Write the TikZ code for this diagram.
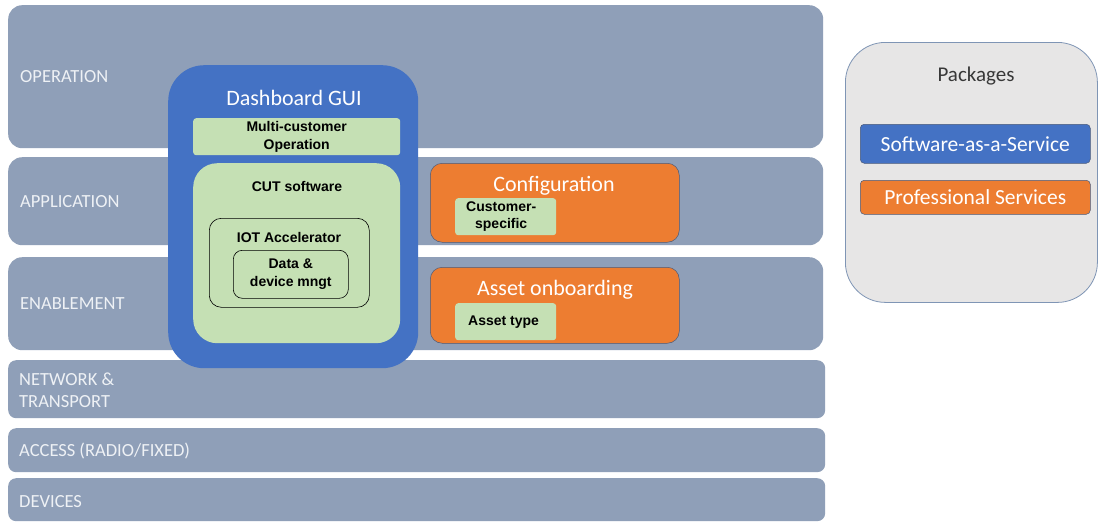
\documentclass[tikz,border=0pt]{standalone}
\usepackage{fontspec}
\setmainfont{Carlito}
\newfontfamily\arialb{Liberation Sans}
\definecolor{bandc}{HTML}{8F9FB8}
\definecolor{bandtxt}{HTML}{EEF1F5}
\definecolor{blueb}{HTML}{4472C4}
\definecolor{greenb}{HTML}{C5E0B4}
\definecolor{orangeb}{HTML}{ED7D31}
\definecolor{pkgc}{HTML}{E7E6E6}
\definecolor{pkgborder}{HTML}{7F95B5}
\definecolor{edgeb}{HTML}{4A5A7A}
\begin{document}
\begin{tikzpicture}[x=1pt,y=-1pt,
  band/.style={fill=bandc, draw=none, rounded corners=14pt, anchor=north west, inner sep=0pt},
  bandlabel/.style={anchor=west, text=bandtxt, font=\fontsize{18.5}{22}\selectfont, align=left, inner sep=0pt},
  greenbox/.style={fill=greenb, draw=none, rounded corners=3pt, anchor=north west, inner sep=0pt},
  orangebox/.style={fill=orangeb, draw=edgeb, line width=0.5pt, rounded corners=12pt, anchor=north west, inner sep=0pt},
  boldlbl/.style={font=\arialb\bfseries\fontsize{14}{17.5}\selectfont, align=center, inner sep=0pt, text=black},
  whitelbl/.style={font=\fontsize{22}{26}\selectfont, text=white, inner sep=0pt}
]
\useasboundingbox (0,0) rectangle (1098,523);
\fill[white] (0,0) rectangle (1098,523);
% bands
\node[band, minimum width=815pt, minimum height=143pt] (op) at (8,5) {};
\node[band, minimum width=815pt, minimum height=88pt] (app) at (8,157) {};
\node[band, minimum width=815pt, minimum height=93pt] (en) at (8,257) {};
\node[band, minimum width=817pt, minimum height=58pt, rounded corners=8pt] (net) at (8,360) {};
\node[band, minimum width=817pt, minimum height=44pt, rounded corners=8pt] (acc) at (8,428) {};
\node[band, minimum width=817pt, minimum height=43pt, rounded corners=8pt] (dev) at (8,478) {};
\node[bandlabel] (opl) at (20,77) {OPERATION};
\node[bandlabel] (appl) at (20,202) {APPLICATION};
\node[bandlabel] (enl) at (20,304) {ENABLEMENT};
\node[bandlabel] (netl) at (19,390) {NETWORK \&\\[0pt]TRANSPORT};
\node[bandlabel] (accl) at (19,451) {ACCESS (RADIO/FIXED)};
\node[bandlabel] (devl) at (19,502) {DEVICES};
% dashboard
\node[fill=blueb, draw=none, rounded corners=36pt, anchor=north west, inner sep=0pt, minimum width=250pt, minimum height=303pt] (dash) at (168,65) {};
\node[whitelbl] (dashl) at (294,98) {Dashboard GUI};
\node[greenbox, minimum width=207pt, minimum height=37pt] (multi) at (193,118) {};
\node[boldlbl] (multil) at (multi.center) {Multi-customer\\Operation};
\node[greenbox, rounded corners=24pt, minimum width=207pt, minimum height=180pt] (cut) at (193,163) {};
\node[boldlbl] (cutl) at (297,186) {CUT software};
\node[draw=black, line width=0.6pt, rounded corners=12pt, anchor=north west, inner sep=0pt, minimum width=160pt, minimum height=89pt] (iot) at (209,218) {};
\node[boldlbl] (iotl) at (289,237) {IOT Accelerator};
\node[draw=black, line width=0.6pt, rounded corners=9pt, anchor=north west, inner sep=0pt, minimum width=115pt, minimum height=48pt] (data) at (233,250) {};
\node[boldlbl] (datal) at (data.center) {Data \&\\device mngt};
% configuration
\node[orangebox, minimum width=249pt, minimum height=79pt] (conf) at (430,163) {};
\node[whitelbl] (confl) at (554,186) {Configuration};
\node[greenbox, minimum width=101pt, minimum height=37pt] (cust) at (455,198) {};
\node[boldlbl, anchor=west] (custl) at (466,216.5) {Customer-\\specific};
% asset onboarding
\node[orangebox, minimum width=249pt, minimum height=76pt] (asset) at (430,267) {};
\node[whitelbl] (assetl) at (555,290) {Asset onboarding};
\node[greenbox, minimum width=101pt, minimum height=37pt] (atype) at (455,303) {};
\node[boldlbl, anchor=west] (atypel) at (468,322) {Asset type};
% packages
\node[fill=pkgc, draw=pkgborder, line width=0.8pt, rounded corners=40pt, anchor=north west, inner sep=0pt, minimum width=252pt, minimum height=260pt] (pkg) at (845,42) {};
\node[font=\fontsize{21}{25}\selectfont, text=black!78, inner sep=0pt] (pkgl) at (976,76) {Packages};
\node[fill=blueb, draw=edgeb, line width=0.5pt, rounded corners=4pt, anchor=north west, inner sep=0pt, minimum width=230pt, minimum height=39pt] (saas) at (860,124) {};
\node[whitelbl, font=\fontsize{21.5}{25}\selectfont] (saasl) at (saas.center) {Software-as-a-Service};
\node[fill=orangeb, draw=edgeb, line width=0.5pt, rounded corners=4pt, anchor=north west, inner sep=0pt, minimum width=230pt, minimum height=34pt] (prof) at (860,180) {};
\node[whitelbl, font=\fontsize{21.5}{25}\selectfont] (profl) at (prof.center) {Professional Services};
\end{tikzpicture}
\end{document}
